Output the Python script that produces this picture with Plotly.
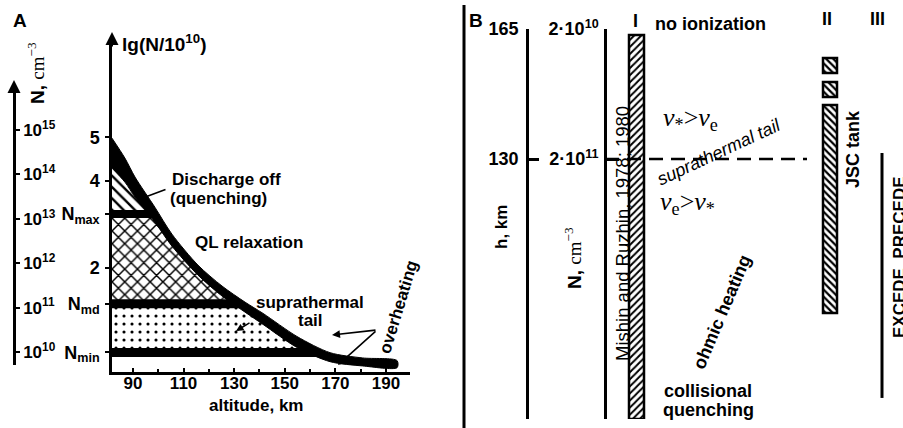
import plotly.graph_objects as go

W, H = 903, 428
SANS = "Liberation Sans, Arial, sans-serif"
SERIF = "Liberation Serif, Times New Roman, serif"

# ---------------- Panel A: discharge regimes vs altitude ----------------
alt_ticks = [90, 110, 130, 150, 170, 190]
lg_ticks = [2, 4, 5]
n_decades = [10, 11, 12, 13, 14, 15]

# characteristic densities, lg(N / 1e10)
lg_nmax = 3.24
lg_nmd = 1.18
lg_nmin = 0.06

# upper density boundary: altitude (km) vs lg(N / 1e10)
curve_alt = [81.7, 86.8, 90.8, 98.7, 105.4, 115.7, 125.2, 134.3, 141.4, 154.8, 167.9, 180.8, 194.4]
curve_lg = [4.64, 4.25, 3.86, 3.22, 2.64, 1.95, 1.47, 1.10, 0.83, 0.30, -0.05, -0.16, -0.21]

# ---------------- Panel B: experiments on the h / N scale ----------------
b_lgN = [10.301, 11.301, 13.301]          # log10(N, cm^-3)
b_alt_labels = ["165", "130", "95"]
b_N_labels = ["2·10<sup>10</sup>", "2·10<sup>11</sup>", "2·10<sup>13</sup>"]

exp_I = (10.347, 13.301)                                   # Mishin and Ruzhin
exp_II = [(10.524, 10.639), (10.709, 10.824), (10.886, 12.486)]  # JSC tank
exp_III = (11.255, 13.139)                                 # EXCEDE, PRECEDE
lg_tail = 11.301                                           # suprathermal tail border


def px(x):
    return x / W


def py(y):
    return 1 - y / H


fig = go.Figure()

# panel A plot box (pixels) and ranges
A_L, A_R, A_T, A_B = 112, 410, 40, 372
XR = [81.7, 199.5]
YR = [-0.391, 7.241]
lg_px = (A_B - A_T) / (YR[1] - YR[0])


# hatched regions, layered bottom-up and trimmed by the white cover above the curve
def region(y0, y1, shape, size, solidity):
    fig.add_trace(go.Scatter(
        x=[XR[0], XR[1], XR[1], XR[0], XR[0]], y=[y0, y0, y1, y1, y0],
        mode="lines", fill="toself", line=dict(width=0), fillcolor="white",
        fillpattern=dict(shape=shape, size=size, solidity=solidity,
                         fgcolor="black", bgcolor="white"),
        hoverinfo="skip", showlegend=False))


region(lg_nmin, lg_nmd, ".", 8, 0.12)
region(lg_nmd, lg_nmax, "x", 9, 0.3)
region(lg_nmax, YR[1] + 1, "\\", 8, 0.3)

for lev, w in [(lg_nmin, 9), (lg_nmd, 9), (lg_nmax, 8)]:
    fig.add_trace(go.Scatter(x=[XR[0], XR[1]], y=[lev, lev], mode="lines",
                             line=dict(color="black", width=w),
                             hoverinfo="skip", showlegend=False))

# white cover over everything above the boundary curve
fig.add_trace(go.Scatter(
    x=curve_alt + [XR[1] + 5, XR[1] + 5, XR[0] - 5],
    y=curve_lg + [curve_lg[-1], YR[1] + 1, YR[1] + 1],
    mode="lines", fill="toself", fillcolor="white", line=dict(width=0),
    hoverinfo="skip", showlegend=False))

# thick boundary curve, drawn as a tapering band
band_px = [30, 24, 20, 15, 12, 10, 10, 10, 11, 11, 9, 8, 7]
upper = [v + b / 2 / lg_px for v, b in zip(curve_lg, band_px)]
lower = [v - b / 2 / lg_px for v, b in zip(curve_lg, band_px)]
fig.add_trace(go.Scatter(
    x=curve_alt + curve_alt[::-1], y=upper + lower[::-1],
    mode="lines", fill="toself", fillcolor="black",
    line=dict(color="black", width=1, shape="spline", smoothing=0.8),
    hoverinfo="skip", showlegend=False))

# left density axis (N, cm^-3)
fig.add_trace(go.Scatter(x=[XR[0]], y=[n_decades[0]], yaxis="y3", mode="markers",
                         marker=dict(opacity=0), hoverinfo="skip", showlegend=False))

# ---------------- Panel B traces ----------------
COL_I, COL_II, COL_III = 636.5, 830, 882
fig.add_trace(go.Bar(
    x=[COL_I], base=[exp_I[0]], y=[exp_I[1] - exp_I[0]], width=[15],
    xaxis="x2", yaxis="y2", cliponaxis=False,
    marker=dict(color="white", line=dict(color="black", width=2.5),
                pattern=dict(shape="/", size=5, solidity=0.4, fgcolor="black", bgcolor="white")),
    hoverinfo="skip", showlegend=False))
fig.add_trace(go.Bar(
    x=[COL_II] * len(exp_II), base=[s for s, e in exp_II], y=[e - s for s, e in exp_II],
    width=[14] * len(exp_II), xaxis="x2", yaxis="y2", cliponaxis=False,
    marker=dict(color="white", line=dict(color="black", width=2.5),
                pattern=dict(shape="\\", size=5, solidity=0.45, fgcolor="black", bgcolor="white")),
    hoverinfo="skip", showlegend=False))
fig.add_trace(go.Scatter(x=[COL_III, COL_III], y=list(exp_III), xaxis="x2", yaxis="y2",
                         mode="lines", line=dict(color="black", width=3),
                         hoverinfo="skip", showlegend=False))
fig.add_trace(go.Scatter(x=[605, 807], y=[lg_tail, lg_tail], xaxis="x2", yaxis="y2",
                         mode="lines", line=dict(color="black", width=2.5, dash="14px,8px"),
                         hoverinfo="skip", showlegend=False))
fig.add_trace(go.Scatter(x=[COL_I], y=[b_lgN[0]], xaxis="x2", yaxis="y4", mode="markers",
                         marker=dict(opacity=0), hoverinfo="skip", showlegend=False))

tick17 = dict(family=SANS, size=17, color="black", weight="bold")
tick18 = dict(family=SANS, size=18, color="black", weight="bold")

fig.update_layout(
    template="none", width=W, height=H,
    margin=dict(l=0, r=0, t=0, b=0),
    paper_bgcolor="white", plot_bgcolor="rgba(0,0,0,0)",
    barmode="overlay", showlegend=False,
    xaxis=dict(domain=[px(A_L), px(A_R)], range=XR, anchor="y",
               showline=True, linecolor="black", linewidth=2.5, showgrid=False, zeroline=False,
               ticks="inside", ticklen=4, tickwidth=2, tickcolor="black",
               tickvals=alt_ticks, tickfont=tick17, ticklabelstandoff=-6,
               minor=dict(ticks="inside", ticklen=3, tickwidth=1.5, tickcolor="black",
                          tick0=80, dtick=10)),
    yaxis=dict(domain=[py(A_B), py(A_T)], range=YR, anchor="x",
               showline=True, linecolor="black", linewidth=2.5, showgrid=False, zeroline=False,
               ticks="outside", ticklen=4, tickwidth=2, tickcolor="black",
               tickvals=[lg_nmin, lg_nmd, lg_ticks[0], lg_nmax, lg_ticks[1], lg_ticks[2]],
               ticktext=["N<sub>min</sub>", "N<sub>md</sub>", str(lg_ticks[0]),
                         "N<sub>max</sub>", str(lg_ticks[1]), str(lg_ticks[2])],
               tickfont=tick18, ticklabelstandoff=2),
    yaxis3=dict(domain=[py(365), py(90)], range=[9.707, 15.90], anchor="free",
                position=px(14), side="right",
                showline=True, linecolor="black", linewidth=2.5, showgrid=False, zeroline=False,
                ticks="outside", ticklen=4, tickwidth=2, tickcolor="black",
                tickvals=n_decades, ticktext=[f"10<sup>{d}</sup>" for d in n_decades],
                tickfont=tick17, ticklabelstandoff=0),
    xaxis2=dict(domain=[px(464), 1], range=[464, 903], anchor="y2", visible=False),
    yaxis2=dict(domain=[py(419), py(29)], range=[b_lgN[-1], b_lgN[0]], anchor="free",
                position=px(527), side="left",
                showline=True, linecolor="black", linewidth=2.5, showgrid=False, zeroline=False,
                ticks="inside", ticklen=10, tickwidth=2.5, tickcolor="black",
                tickvals=b_lgN, ticktext=b_alt_labels, tickfont=tick18, ticklabelstandoff=4),
    yaxis4=dict(overlaying="y2", range=[b_lgN[-1], b_lgN[0]], anchor="free",
                position=px(605), side="left",
                showline=True, linecolor="black", linewidth=2.5, showgrid=False, zeroline=False,
                ticks="inside", ticklen=12, tickwidth=2.5, tickcolor="black",
                tickvals=b_lgN, ticktext=b_N_labels, tickfont=tick18, ticklabelstandoff=2),
)

# panel separator
fig.add_shape(type="line", xref="paper", yref="paper", x0=px(464), x1=px(464),
              y0=py(5), y1=py(428), line=dict(color="black", width=3))


def label(text, x, y, size=17, bold=True, angle=0, family=SANS, italic=False,
          xanchor="center"):
    fig.add_annotation(text=text, x=px(x), y=py(y), xref="paper", yref="paper",
                       showarrow=False, textangle=angle, xanchor=xanchor, yanchor="middle",
                       font=dict(family=family, size=size, color="black",
                                 weight="bold" if bold else "normal",
                                 style="italic" if italic else "normal"))


def arrow(x, y, dx, dy, head=2, width=1.6, size=1.0):
    fig.add_annotation(text="", x=px(x), y=py(y), xref="paper", yref="paper",
                       showarrow=True, ax=dx, ay=dy, arrowhead=head, arrowwidth=width,
                       arrowsize=size, arrowcolor="black")


ncm = ("<b>N,</b> <span style='font-family:Liberation Serif'>cm</span>"
       "<span style='font-family:Liberation Serif'><sup>−3</sup></span>")

# panel A texts
label("A", 20, 20, size=19)
label("lg(N/10<sup>10</sup>)", 120, 43, size=19, xanchor="left")
label(ncm, 36, 73, size=19, bold=False, angle=-90)
label("Discharge off", 170, 179, xanchor="left")
label("(quenching)", 168, 198, xanchor="left")
label("QL relaxation", 249, 242)
label("suprathermal", 310, 302)
label("tail", 310, 320)
label("overheating", 398, 307, angle=-73)
label("altitude, km", 256, 405)
arrow(112, 32, 0, 16, head=2, width=2, size=1.3)
arrow(14, 80, 0, 16, head=2, width=2, size=1.3)
arrow(140, 199, 27, -10, head=0, width=1.6)
arrow(236, 331, 15, -9, head=2, width=1.5, size=1)
arrow(332, 335, 45, -5, head=2, width=1.6, size=1)
arrow(338, 365, 39, -35, head=2, width=1.6, size=1)

# panel B texts
label("B", 476, 20, size=19)
label("I", 635, 21, size=18)
label("no ionization", 710, 24, size=18)
label("II", 827, 19, size=18)
label("III", 877, 19, size=18)
label("h, km", 501, 227, size=17, angle=-90)
label(ncm, 573, 258, size=19, bold=False, angle=-90)
label("Mishin and Ruzhin, 1978; 1980", 622, 234, size=18.5, bold=False, angle=-90)
label("JSC tank", 853, 149, size=18, angle=-90)
label("EXCEDE  PRECEDE", 899, 257, size=17, angle=-90)
label("<i>ν</i><sub>*</sub>&gt;<i>ν</i><sub>e</sub>", 690, 119, size=26, bold=False, family=SERIF)
label("<i>ν</i><sub>e</sub>&gt;<i>ν</i><sub>*</sub>", 687, 203, size=26, bold=False, family=SERIF)
label("suprathermal tail", 719, 152, size=18, bold=False, italic=True, angle=-25)
label("ohmic heating", 722, 312, size=18, angle=-67)
label("collisional", 708, 391, size=18)
label("quenching", 708, 410, size=18)

fig.write_html("out.html")
